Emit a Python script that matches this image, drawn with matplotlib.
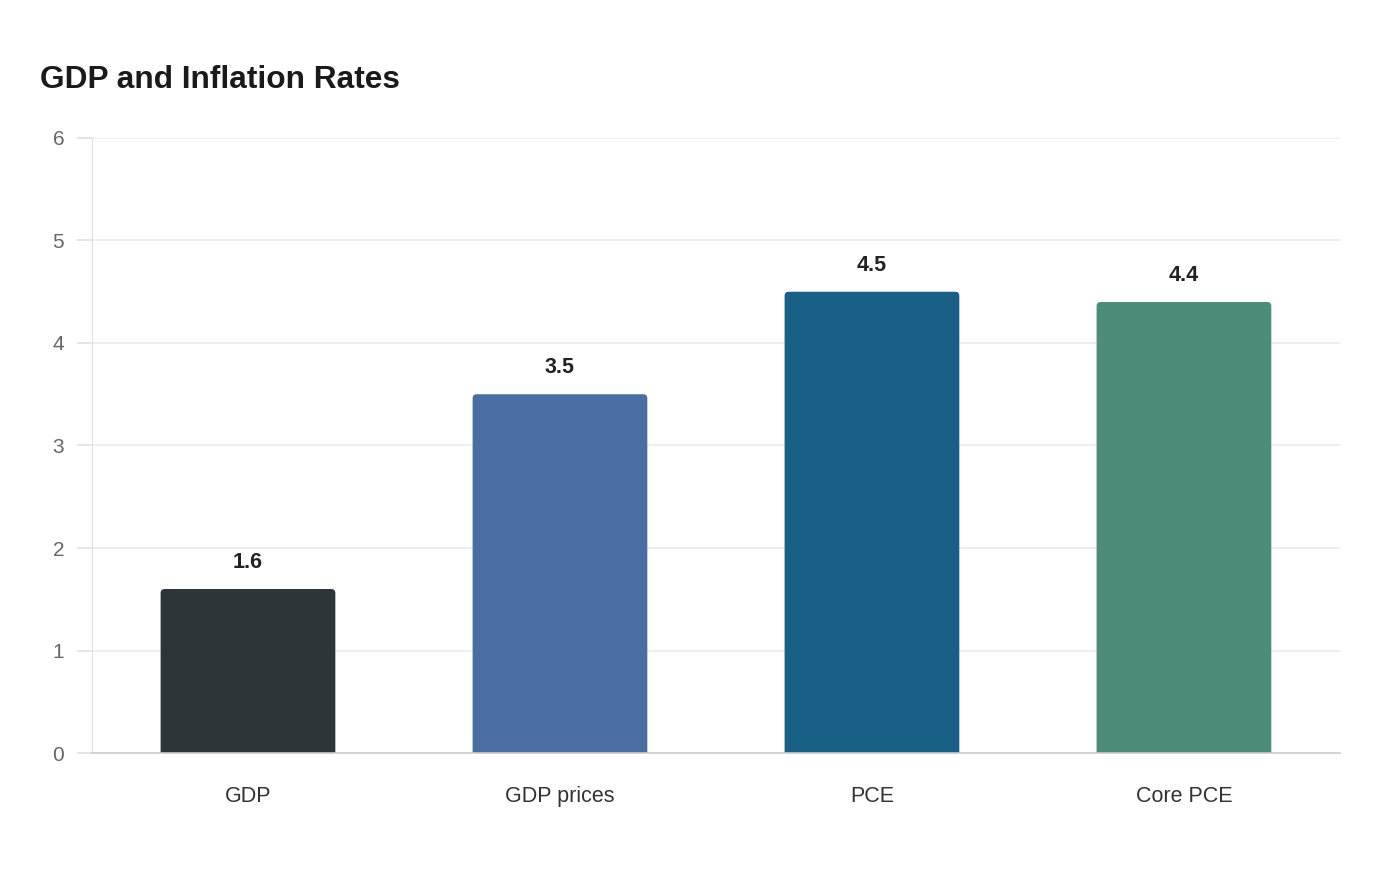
import matplotlib.pyplot as plt
from matplotlib.patches import FancyBboxPatch
import numpy as np

plt.rcParams['font.family'] = ['Liberation Sans', 'DejaVu Sans']

categories = ['GDP', 'GDP prices', 'PCE', 'Core PCE']
values = [1.6, 3.5, 4.5, 4.4]
colors = ['#2c3538', '#4a6ea3', '#186086', '#4e8c7a']
y_ticks = [0, 1, 2, 3, 4, 5, 6]

fig = plt.figure(figsize=(14, 8.8), dpi=100)
ax = fig.add_axes([0.0657, 0.1443, 0.8914, 0.6989])

x = np.arange(len(categories))
bars = ax.bar(x, values, width=0.56, color=colors, zorder=3)

# swap plain bars for ones with slightly rounded top corners
for b, c in zip(bars, colors):
    b.set_visible(False)
    rb = FancyBboxPatch((b.get_x(), -0.2), b.get_width(), b.get_height() + 0.2,
                        boxstyle='round,pad=0,rounding_size=0.013',
                        mutation_aspect=3.0, facecolor=c, edgecolor='none',
                        zorder=3, clip_on=True)
    ax.add_patch(rb)

for b, v in zip(bars, values):
    ax.annotate(f'{v}', (b.get_x() + b.get_width() / 2, v),
                xytext=(0, 11.5), textcoords='offset points',
                ha='center', va='bottom', fontsize=15.5,
                fontweight='bold', color='#222222')

ax.set_xlim(-0.5, len(categories) - 0.5)
ax.set_ylim(0, 6)
ax.set_yticks(y_ticks)
ax.set_xticks(x)
ax.set_xticklabels(categories)

ax.grid(axis='y', color='#ebebeb', linewidth=1.2, zorder=0)
ax.tick_params(axis='y', colors='#e0e0e0', labelcolor='#666666',
               labelsize=15, length=11, width=1.2, pad=9)
ax.tick_params(axis='x', length=0, labelsize=15.5, labelcolor='#333333', pad=23.5)

for s in ['top', 'right']:
    ax.spines[s].set_visible(False)
ax.spines['left'].set_color('#e0e0e0')
ax.spines['bottom'].set_color('#cccccc')
ax.spines['bottom'].set_linewidth(1.2)
ax.spines['bottom'].set_zorder(4)

fig.text(40 / 1400, 1 - 80 / 880, 'GDP and Inflation Rates', fontsize=22.8,
         fontweight='bold', color='#1a1a1a', ha='left', va='center')

fig.savefig('out.png', dpi=100, facecolor='white')
